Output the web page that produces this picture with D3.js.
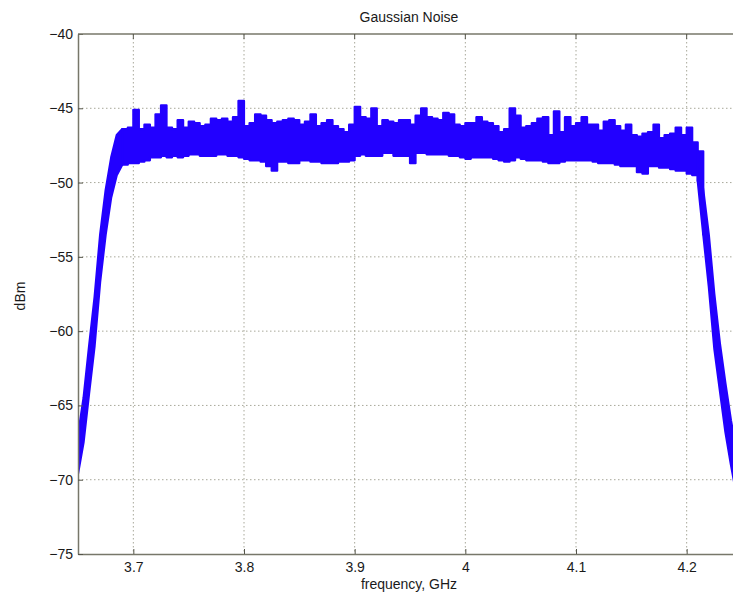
<!DOCTYPE html>
<html>
<head>
<meta charset="utf-8">
<script src="https://cdn.jsdelivr.net/npm/d3@7"></script>
<style>
  html, body { margin: 0; padding: 0; background: #fff; }
  svg { display: block; font-family: "Liberation Sans", Arial, sans-serif; }
</style>
</head>
<body>
<svg id="chart" width="733" height="596"></svg>
<script>
// ---- data ----
const title = "Gaussian Noise";
const xLabel = "frequency, GHz";
const yLabel = "dBm";
const xTicks = [3.7, 3.8, 3.9, 4.0, 4.1, 4.2];
const xTickLabels = ["3.7", "3.8", "3.9", "4", "4.1", "4.2"];
const yTicks = [-75, -70, -65, -60, -55, -50, -45, -40];
const xDomain = [3.65, 4.25];
const yDomain = [-75, -40];

// bin start frequencies (GHz), 5 MHz bins
const freqStart = 3.65;
const freqStep = 0.005;
// upper envelope of the noise trace (dBm) per bin
const upper = [
  -67.0, -64.5, -61.0, -57.7, -53.5, -50.5, -48.3, -46.8, -46.4, -46.3,
  -45.1, -46.4, -46.1, -46.3, -45.4, -44.8, -46.3, -46.4, -45.8, -46.3,
  -45.9, -46.0, -46.2, -46.1, -45.7, -45.8, -45.7, -45.9, -45.6, -44.5,
  -46.2, -46.0, -45.4, -45.5, -45.8, -46.0, -45.9, -45.8, -45.7, -45.8,
  -46.1, -45.9, -45.4, -46.2, -46.0, -45.8, -46.2, -46.4, -46.6, -46.1,
  -44.9, -45.6, -45.7, -45.0, -46.2, -45.8, -45.9, -46.0, -45.8, -45.8,
  -46.1, -45.5, -45.0, -45.6, -45.7, -45.8, -45.3, -45.4, -46.1, -46.2,
  -46.0, -46.0, -45.6, -45.9, -46.0, -46.2, -46.6, -46.4, -45.0, -45.5,
  -46.3, -46.2, -46.0, -45.7, -45.6, -46.8, -45.2, -46.6, -45.6, -46.2,
  -46.0, -45.6, -46.1, -46.1, -46.5, -45.9, -45.8, -46.2, -46.5, -46.1,
  -46.8, -46.9, -46.7, -46.6, -46.1, -47.0, -46.8, -46.7, -46.3, -46.8,
  -46.3, -47.3, -47.9, -50.5, -53.5, -57.5, -60.8, -63.5, -66.0, -68.0
];
// lower envelope of the noise trace (dBm) per bin
const lower = [
  -69.6, -67.5, -64.2, -61.0, -56.7, -53.5, -51.0, -49.5, -48.8, -48.7,
  -48.7, -48.6, -48.5, -48.3, -48.3, -48.2, -48.3, -48.2, -48.3, -48.2,
  -48.1, -48.1, -48.2, -48.2, -48.2, -48.1, -48.1, -48.2, -48.2, -48.3,
  -48.4, -48.5, -48.5, -48.6, -48.9, -49.2, -48.6, -48.6, -48.7, -48.7,
  -48.5, -48.5, -48.6, -48.6, -48.7, -48.7, -48.7, -48.6, -48.6, -48.5,
  -48.2, -48.1, -48.2, -48.2, -48.2, -48.0, -48.0, -48.2, -48.2, -48.2,
  -48.7, -48.0, -48.0, -48.1, -48.1, -48.1, -48.1, -48.2, -48.2, -48.3,
  -48.4, -48.3, -48.3, -48.3, -48.3, -48.4, -48.5, -48.6, -48.5, -48.3,
  -48.4, -48.5, -48.5, -48.5, -48.6, -48.7, -48.7, -48.6, -48.5, -48.5,
  -48.5, -48.5, -48.5, -48.6, -48.7, -48.7, -48.7, -48.8, -48.9, -48.9,
  -48.9, -49.3, -49.4, -48.9, -48.9, -49.0, -49.0, -49.1, -49.2, -49.2,
  -49.4, -49.5, -49.9, -53.5, -57.0, -61.2, -64.0, -66.8, -69.0, -71.0
];
// bins where the plateau (noisy, blocky part) starts and ends
const plateauFirst = 8;
const plateauLast = 113;

// ---- layout ----
const plot = { left: 78, top: 34, right: 742, bottom: 554 };
const svg = d3.select("#chart");

const x = d3.scaleLinear().domain(xDomain).range([plot.left, plot.right]);
const y = d3.scaleLinear().domain(yDomain).range([plot.bottom, plot.top]);

const data = upper.map((u, i) => ({ f: freqStart + i * freqStep, hi: u, lo: lower[i] }));

svg.append("defs").append("clipPath").attr("id", "clip")
  .append("rect")
  .attr("x", plot.left).attr("y", plot.top)
  .attr("width", plot.right - plot.left).attr("height", plot.bottom - plot.top);

const axisColor = "#77776a";
const gridColor = "#a8a89a";
const traceColor = "#2200ff";

// grid
const grid = svg.append("g");
grid.selectAll("line.vg").data(xTicks).join("line")
  .attr("x1", d => x(d)).attr("x2", d => x(d))
  .attr("y1", plot.top).attr("y2", plot.bottom)
  .attr("stroke", gridColor).attr("stroke-width", 1)
  .attr("stroke-dasharray", "1.5,2.5");
grid.selectAll("line.hg").data(yTicks.filter(v => v !== yDomain[0] && v !== yDomain[1])).join("line")
  .attr("x1", plot.left).attr("x2", plot.right)
  .attr("y1", d => y(d)).attr("y2", d => y(d))
  .attr("stroke", gridColor).attr("stroke-width", 1)
  .attr("stroke-dasharray", "1.5,2.5");

// trace band: smooth on the roll-off skirts, blocky on the noisy plateau
const areaLinear = d3.area()
  .x(d => x(d.f)).y0(d => y(d.lo)).y1(d => y(d.hi))
  .curve(d3.curveLinear);
const areaStep = d3.area()
  .x(d => x(d.f)).y0(d => y(d.lo)).y1(d => y(d.hi))
  .curve(d3.curveStepAfter);

const traceG = svg.append("g").attr("clip-path", "url(#clip)");
const parts = [
  { d: data.slice(0, plateauFirst + 1), gen: areaLinear },
  { d: data.slice(plateauFirst, plateauLast + 1), gen: areaStep },
  { d: data.slice(plateauLast - 1), gen: areaLinear }
];
traceG.selectAll("path").data(parts).join("path")
  .attr("d", p => p.gen(p.d))
  .attr("fill", traceColor)
  .attr("stroke", traceColor)
  .attr("stroke-width", 2.2)
  .attr("stroke-linejoin", "round");

// axes
const xAxis = d3.axisBottom(x).tickValues(xTicks)
  .tickFormat((d, i) => xTickLabels[i]).tickSizeInner(-5).tickSizeOuter(0).tickPadding(6);
const yAxis = d3.axisLeft(y).tickValues(yTicks).tickSizeInner(-5).tickSizeOuter(0).tickPadding(5);

const gx = svg.append("g").attr("transform", `translate(0,${plot.bottom})`).call(xAxis);
const gy = svg.append("g").attr("transform", `translate(${plot.left},0)`).call(yAxis);
[gx, gy].forEach(g => {
  g.select(".domain").attr("stroke", axisColor).attr("stroke-width", 1.5);
  g.selectAll(".tick line").attr("stroke", "#55554a").attr("stroke-width", 1);
  g.selectAll(".tick text").attr("fill", "#1a1a1a").attr("font-size", 14)
    .attr("font-family", "Liberation Sans, Arial, sans-serif");
});
gx.selectAll(".tick text").attr("dy", "0.85em");

// top box line & top ticks, right box line
svg.append("line")
  .attr("x1", plot.left).attr("x2", plot.right)
  .attr("y1", plot.top).attr("y2", plot.top)
  .attr("stroke", axisColor).attr("stroke-width", 1.5);
svg.append("g").selectAll("line").data(xTicks).join("line")
  .attr("x1", d => x(d)).attr("x2", d => x(d))
  .attr("y1", plot.top).attr("y2", plot.top + 5)
  .attr("stroke", "#55554a").attr("stroke-width", 1);
svg.append("line")
  .attr("x1", plot.right).attr("x2", plot.right)
  .attr("y1", plot.top).attr("y2", plot.bottom)
  .attr("stroke", axisColor).attr("stroke-width", 1.5);

// texts
svg.append("text").attr("x", 409).attr("y", 22)
  .attr("text-anchor", "middle").attr("font-size", 14).attr("fill", "#1a1a1a")
  .text(title);
svg.append("text").attr("x", 409).attr("y", 589)
  .attr("text-anchor", "middle").attr("font-size", 14).attr("fill", "#1a1a1a")
  .text(xLabel);
svg.append("text")
  .attr("transform", "translate(25,296) rotate(-90)")
  .attr("text-anchor", "middle").attr("font-size", 14).attr("fill", "#1a1a1a")
  .text(yLabel);
</script>
</body>
</html>
